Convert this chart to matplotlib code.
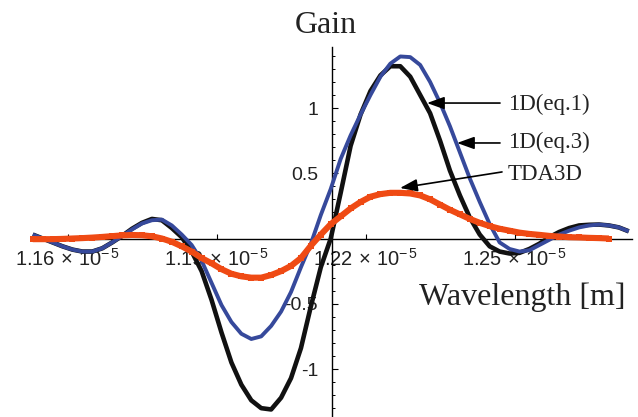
import matplotlib
matplotlib.use("Agg")
import matplotlib.pyplot as plt
from matplotlib.ticker import FixedLocator, FixedFormatter

# ---- data (wavelength in units of 1e-5 m) ----
wavelength = [1.153, 1.155, 1.157, 1.159, 1.161, 1.163, 1.165, 1.167, 1.169, 1.171,
              1.173, 1.175, 1.177, 1.179, 1.181, 1.183, 1.185, 1.187, 1.189, 1.191,
              1.193, 1.195, 1.197, 1.199, 1.201, 1.203, 1.205, 1.207, 1.209, 1.211,
              1.213, 1.215, 1.217, 1.219, 1.221, 1.223, 1.225, 1.227, 1.229, 1.231,
              1.233, 1.235, 1.237, 1.239, 1.241, 1.243, 1.245, 1.247, 1.249, 1.251,
              1.253, 1.255, 1.257, 1.259, 1.261, 1.263, 1.265, 1.267, 1.269, 1.271,
              1.273]

gain_eq1 = [0.03, 0.0, -0.03, -0.06, -0.085, -0.10, -0.10, -0.075, -0.03, 0.02,
            0.075, 0.12, 0.15, 0.14, 0.08, 0.01, -0.10, -0.25, -0.47, -0.72,
            -0.95, -1.12, -1.24, -1.30, -1.31, -1.22, -1.07, -0.84, -0.52, -0.22,
            0.0, 0.35, 0.71, 0.95, 1.13, 1.25, 1.32, 1.32, 1.24, 1.10,
            0.96, 0.75, 0.52, 0.33, 0.16, 0.03, -0.06, -0.10, -0.115, -0.11,
            -0.08, -0.04, 0.01, 0.05, 0.08, 0.10, 0.105, 0.107, 0.10, 0.085,
            0.055]

gain_eq3 = [0.03, 0.0, -0.03, -0.06, -0.085, -0.10, -0.10, -0.075, -0.03, 0.02,
            0.07, 0.115, 0.14, 0.145, 0.10, 0.03, -0.05, -0.17, -0.34, -0.51,
            -0.64, -0.73, -0.77, -0.75, -0.67, -0.56, -0.41, -0.22, -0.04, 0.18,
            0.38, 0.61, 0.79, 0.95, 1.10, 1.24, 1.34, 1.395, 1.39, 1.33,
            1.20, 1.04, 0.86, 0.66, 0.46, 0.28, 0.11, -0.03, -0.08, -0.10,
            -0.09, -0.05, -0.01, 0.03, 0.06, 0.085, 0.10, 0.107, 0.10, 0.085,
            0.055]

gain_tda3d = [-0.005, -0.005, -0.005, -0.003, 0.0, 0.003, 0.007, 0.012, 0.018, 0.024,
              0.027, 0.025, 0.017, 0.0, -0.025, -0.06, -0.10, -0.15, -0.19, -0.235,
              -0.27, -0.29, -0.30, -0.30, -0.28, -0.25, -0.21, -0.15, -0.055, 0.03,
              0.11, 0.17, 0.23, 0.28, 0.32, 0.34, 0.35, 0.35, 0.345, 0.33,
              0.30, 0.26, 0.22, 0.185, 0.15, 0.12, 0.095, 0.075, 0.06, 0.045,
              0.035, 0.028, 0.02, 0.015, 0.01, 0.008, 0.005, 0.003, 0.0]

x_ticks = [1.16, 1.19, 1.22, 1.25]
x_tick_labels = [r"$1.16\,\times\,10^{-\,5}$", r"$1.19\,\times\,10^{-\,5}$",
                 r"$1.22\,\times\,10^{-\,5}$", r"$1.25\,\times\,10^{-\,5}$"]
y_ticks = [-1.0, -0.5, 0.5, 1.0]
y_tick_labels = ["-1", "-0.5", "0.5", "1"]

# ---- style ----
plt.rcParams["mathtext.fontset"] = "custom"
plt.rcParams["mathtext.rm"] = "Liberation Sans"
plt.rcParams["mathtext.it"] = "Liberation Sans:italic"
plt.rcParams["mathtext.bf"] = "Liberation Sans:bold"
plt.rcParams["font.family"] = ["Liberation Sans", "DejaVu Sans"]

fig = plt.figure(figsize=(6.38, 4.17), dpi=100)
ax = fig.add_axes([0, 0, 1, 1])
ax.set_xlim(1.14641, 1.27486)
ax.set_ylim(-1.3678, 1.8276)

black = "#111111"
blue = "#36499b"
orange = "#ef4a14"

ax.plot(wavelength, gain_eq1, color=black, lw=3.3, solid_capstyle="butt",
        solid_joinstyle="round", zorder=3)
ax.plot(wavelength, gain_eq3, color=blue, lw=2.8, solid_capstyle="butt",
        solid_joinstyle="round", zorder=4)
ax.plot(wavelength[:len(gain_tda3d)], gain_tda3d, color=orange, lw=4.4,
        marker="s", ms=5, mew=0, solid_capstyle="butt", zorder=5)

# axes crossing in the plot
y_axis_pos = 1.21326
for s in ("top", "right"):
    ax.spines[s].set_visible(False)
ax.spines["left"].set_position(("data", y_axis_pos))
ax.spines["bottom"].set_position(("data", 0.0))
ax.spines["left"].set_bounds(-1.3678, 1.466)
ax.spines["bottom"].set_bounds(wavelength[0] - 0.0004, wavelength[-1] + 0.0006)
for s in ("left", "bottom"):
    ax.spines[s].set_linewidth(1.0)
    ax.spines[s].set_color("black")
    ax.spines[s].set_zorder(2)

ax.xaxis.set_major_locator(FixedLocator(x_ticks))
ax.xaxis.set_major_formatter(FixedFormatter(x_tick_labels))
ax.yaxis.set_major_locator(FixedLocator(y_ticks))
ax.yaxis.set_major_formatter(FixedFormatter(y_tick_labels))
ax.yaxis.set_minor_locator(FixedLocator([v / 10 for v in range(-13, 15) if v % 5 != 0]))

ax.tick_params(axis="x", which="major", direction="in", length=3.5, width=0.8,
               labelsize=14.5, pad=7, colors="black", labelcolor="#222222")
ax.tick_params(axis="y", which="major", direction="in", length=4.5, width=0.8,
               labelsize=14, pad=10, colors="black", labelcolor="#222222")
ax.tick_params(axis="y", which="minor", direction="in", length=2.5, width=0.7)

# axis titles
serif = ["Liberation Serif", "DejaVu Serif"]
fig.text(326 / 638, 1 - 33 / 417, "Gain", ha="center", va="baseline",
         fontsize=23, family=serif, color="#222222")
fig.text(522 / 638, 1 - 305 / 417, "Wavelength [m]", ha="center", va="baseline",
         fontsize=23, family=serif, color="#222222")

# annotations
arrow = dict(arrowstyle="-|>,head_length=1.0,head_width=0.36", color="black",
             lw=1.2, shrinkA=0, shrinkB=0, mutation_scale=10.5)
ax.annotate("", xy=(1.23238, 1.038), xytext=(1.24708, 1.038), arrowprops=arrow, zorder=6)
ax.annotate("", xy=(1.23842, 0.732), xytext=(1.24708, 0.732), arrowprops=arrow, zorder=6)
ax.annotate("", xy=(1.22695, 0.387), xytext=(1.24748, 0.510), arrowprops=arrow, zorder=6)
ax.text(1.24869, 1.031, "1D(eq.1)", ha="left", va="center", fontsize=16.5,
        family=serif, color="#222222")
ax.text(1.24869, 0.739, "1D(eq.3)", ha="left", va="center", fontsize=16.5,
        family=serif, color="#222222")
ax.text(1.24869, 0.487, "TDA3D", ha="left", va="center", fontsize=16.5,
        family=serif, color="#222222")

fig.savefig("out.png", dpi=100)
